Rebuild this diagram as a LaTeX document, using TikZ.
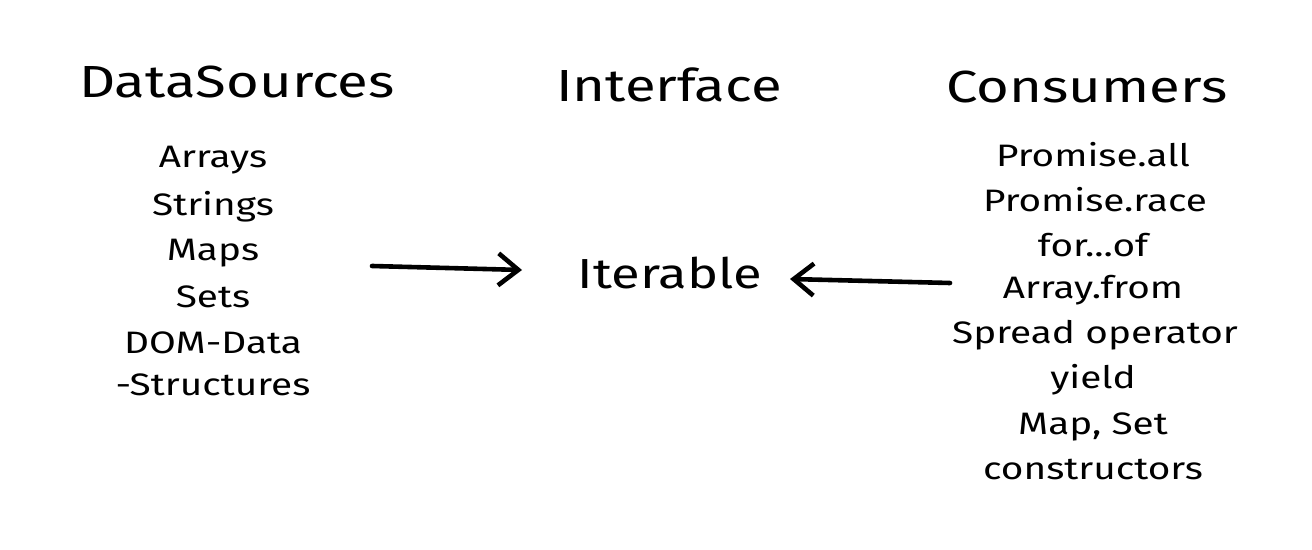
\documentclass[tikz,border=0pt]{standalone}
\usepackage{fontspec}
\setmainfont{Fira Sans}[FakeStretch=1.25]
\usetikzlibrary{arrows.meta}
\begin{document}
\begin{tikzpicture}[x=0.5pt,y=-0.5pt,
  head/.style={font=\fontsize{22.5}{26}\selectfont, inner sep=0pt},
  item/.style={font=\fontsize{15.5}{18}\selectfont, inner sep=0pt},
  big/.style={font=\fontsize{21}{24}\selectfont, inner sep=0pt},
  arr/.style={line width=2.3pt, line cap=round, -{Straight Barb[length=10pt,width=16pt,line width=2.3pt]}}]
\useasboundingbox (0,0) rectangle (1312,550);
\node[head] (hsrc) at (237,82) {DataSources};
\node[head] (hint) at (669,85) {Interface};
\node[head] (hcon) at (1087,87) {Consumers};
\node[item] (s1) at (213,160) {Arrays};
\node[item] (s2) at (213,207) {Strings};
\node[item] (s3) at (213,253) {Maps};
\node[item] (s4) at (213,297) {Sets};
\node[item] (s5) at (213,343) {DOM-Data};
\node[item] (s6) at (213,385) {-Structures};
\node[big] (it) at (670,273) {Iterable};
\node[item] (c1) at (1093,155) {Promise.all};
\node[item] (c2) at (1095,200) {Promise.race};
\node[item] (c3) at (1093,245) {for...of};
\node[item] (c4) at (1093,290) {Array.from};
\node[item] (c5) at (1095,335) {Spread operator};
\node[item] (c6) at (1093,380) {yield};
\node[item] (c7) at (1093,427) {Map, Set};
\node[item] (c8) at (1093,470) {constructors};
\coordinate (a1s) at (372,266);
\coordinate (a1e) at (522,270);
\coordinate (a2s) at (950,283);
\coordinate (a2e) at (790,279);
\draw[arr] (a1s) -- (a1e);
\draw[arr] (a2s) -- (a2e);
\end{tikzpicture}
\end{document}
